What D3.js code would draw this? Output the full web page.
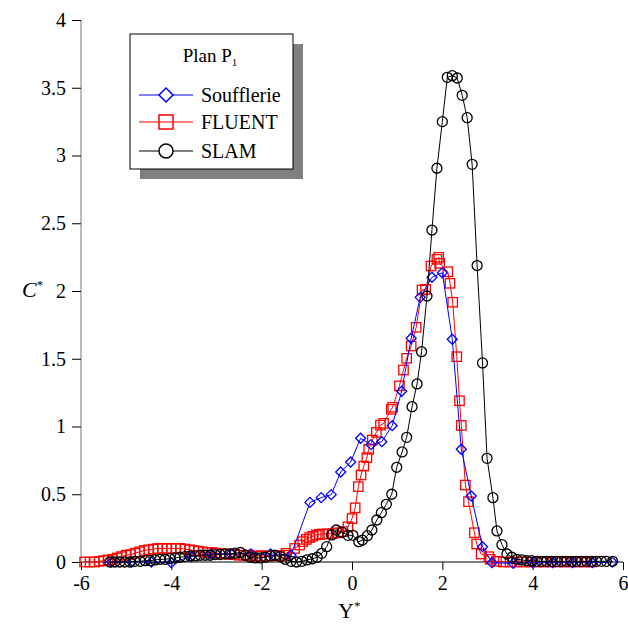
<!DOCTYPE html>
<html><head><meta charset="utf-8">
<script src="https://cdn.jsdelivr.net/npm/d3@7"></script>
<style>body{margin:0;background:#fff}svg{display:block}svg text{font-family:'Liberation Serif','Times New Roman',Times,serif !important}</style>
</head><body>
<script>
const xTicks = [-6,-4,-2,0,2,4,6];
const yTicks = [0,0.5,1,1.5,2,2.5,3,3.5,4];
const seriesNames = ["Soufflerie","FLUENT","SLAM"];
const legendTitle = "Plan P";

const soufX = [-5.32,-4.88,-4.44,-4.0,-3.56,-3.12,-2.68,-2.24,-1.8,-1.35,-0.93,-0.68,-0.46,-0.25,-0.03,0.19,0.42,0.66,0.89,1.1,1.31,1.51,1.77,2.0,2.22,2.42,2.64,2.89,3.1,3.57,4.0,4.44,4.88,5.32,5.76];
const soufY = [0.0,0.0,0.0,-0.005,0.04,0.06,0.06,0.06,0.06,0.05,0.44,0.475,0.497,0.664,0.738,0.913,0.866,0.888,1.006,1.26,1.651,1.953,2.101,2.135,1.644,0.832,0.487,0.113,-0.005,-0.01,-0.005,-0.005,-0.005,-0.005,0.0];

const fluentX = [-5.92,-5.8,-5.7,-5.6,-5.5,-5.4,-5.3,-5.2,-5.1,-5.0,-4.9,-4.8,-4.7,-4.6,-4.5,-4.4,-4.3,-4.2,-4.1,-4.0,-3.9,-3.8,-3.7,-3.6,-3.5,-3.4,-3.3,-3.2,-3.1,-3.0,-2.9,-2.8,-2.7,-2.6,-2.5,-2.4,-2.3,-2.2,-2.1,-2.0,-1.9,-1.8,-1.7,-1.6,-1.5,
 -1.46,-1.27,-1.16,-1.09,-1.01,-0.94,-0.87,-0.79,-0.72,-0.65,-0.54,-0.42,-0.31,-0.2,-0.09,0.0,0.07,0.14,0.2,0.26,0.33,0.37,0.45,0.54,0.63,0.7,0.87,0.9,1.05,1.14,1.21,1.31,1.42,1.55,1.63,1.75,1.88,1.92,1.94,2.12,2.17,2.23,2.32,2.38,2.42,2.51,2.58,2.71,2.76,2.86,3.03,3.06,3.2,3.35,
 3.5,3.65,3.8,3.95,4.1,4.25,4.4,4.55,4.7,4.85,5.0,5.15,5.3];
const fluentY = [0.0,0.0,0.0,0.005,0.01,0.015,0.02,0.03,0.04,0.05,0.055,0.065,0.075,0.085,0.09,0.095,0.1,0.1,0.1,0.1,0.1,0.1,0.095,0.09,0.085,0.08,0.075,0.07,0.07,0.065,0.06,0.06,0.055,0.055,0.05,0.05,0.05,0.045,0.045,0.045,0.045,0.045,0.045,0.045,0.05,
 0.064,0.1,0.125,0.15,0.167,0.18,0.19,0.2,0.204,0.207,0.207,0.21,0.216,0.224,0.26,0.32,0.4,0.556,0.642,0.708,0.77,0.832,0.9,0.957,1.01,1.023,1.127,1.142,1.3,1.417,1.503,1.594,1.732,2.007,2.012,2.184,2.234,2.249,2.204,2.142,2.057,1.917,1.515,1.19,1.008,0.568,0.445,0.216,0.133,0.059,0.039,0.02,0.005,0.0,
 0.0,0.0,0.0,0.0,0.0,0.0,0.0,0.0,0.0,0.0,0.0,0.0,0.0];

const slamX = [-5.36,-5.25,-5.14,-5.03,-4.92,-4.81,-4.69,-4.58,-4.47,-4.36,-4.25,-4.14,-4.03,-3.92,-3.81,-3.7,-3.58,-3.47,-3.36,-3.25,-3.14,-3.03,-2.92,-2.81,-2.7,-2.59,-2.47,-2.36,-2.25,-2.14,-2.03,-1.92,-1.81,-1.7,-1.59,-1.48,
 -1.35,-1.23,-1.11,-1.0,-0.88,-0.77,-0.67,-0.56,-0.45,-0.35,-0.22,-0.09,0.02,0.15,0.23,0.34,0.44,0.55,0.65,0.76,0.88,0.99,1.11,1.21,1.33,1.44,1.54,1.66,1.77,1.88,2.0,2.11,2.22,2.33,2.44,2.55,2.66,2.77,2.89,2.99,3.12,3.21,3.32,3.43,
 3.54,3.65,3.76,3.87,3.98,4.09,4.2,4.31,4.42,4.53,4.64,4.75,4.86,4.97,5.08,5.19,5.3,5.41,5.52,5.63,5.77];
const slamY = [0.0,0.0,0.0,0.0,0.0,0.005,0.005,0.01,0.01,0.015,0.02,0.02,0.025,0.03,0.035,0.04,0.045,0.045,0.05,0.05,0.05,0.055,0.055,0.06,0.06,0.065,0.07,0.05,0.035,0.03,0.03,0.035,0.045,0.05,0.04,0.02,
 0.005,0.0,0.005,0.015,0.024,0.035,0.064,0.113,0.2,0.236,0.22,0.197,0.197,0.15,0.162,0.194,0.236,0.31,0.364,0.426,0.5,0.699,0.812,0.92,1.146,1.314,1.552,1.963,2.45,2.906,3.25,3.577,3.589,3.572,3.444,3.279,2.935,2.188,1.469,0.765,0.475,0.229,0.128,0.059,
 0.035,0.02,0.015,0.01,0.01,0.005,0.005,0.005,0.005,0.005,0.005,0.005,0.005,0.005,0.005,0.005,0.005,0.005,0.005,0.005,0.005];

const FONT = "'Liberation Serif','Times New Roman',Times,serif";
const W = 628, H = 628;
const svg = d3.select("body").append("svg").attr("width", W).attr("height", H).attr("font-family", FONT);
const x = d3.scaleLinear().domain([-6, 6]).range([81, 623]);
const y = d3.scaleLinear().domain([0, 4]).range([562, 20]);

// axes
const xAxis = d3.axisBottom(x).tickValues(xTicks).tickSize(8).tickPadding(6).tickFormat(d => d);
const gx = svg.append("g").attr("transform", "translate(0,562)").call(xAxis).attr("font-family", FONT);
gx.select(".domain").attr("stroke", "#000").attr("d", `M${x(-6)},0H${x(6)}`);
gx.selectAll(".tick line").attr("stroke", "#000");
gx.selectAll("text").attr("font-size", 20).attr("fill", "#000").attr("dy", "0.71em");

const yAxis = d3.axisLeft(y).tickValues(yTicks).tickSize(9).tickPadding(6).tickFormat(d => d);
const gy = svg.append("g").attr("transform", "translate(81,0)").call(yAxis).attr("font-family", FONT);
gy.select(".domain").attr("stroke", "#777").attr("d", `M0,${y(0)}V${y(4)}`);
gy.selectAll(".tick line").attr("stroke", "#000");
gy.selectAll("text").attr("font-size", 20).attr("fill", "#000");

// axis titles
const cl = svg.append("text").attr("x", 22).attr("y", 297).attr("font-size", 22).attr("font-style", "italic");
cl.append("tspan").text("C");
cl.append("tspan").attr("font-size", 13).attr("dy", -8).attr("font-style", "normal").text("*");
const yl = svg.append("text").attr("x", 338).attr("y", 618).attr("font-size", 22);
yl.append("tspan").text("Y");
yl.append("tspan").attr("font-size", 13).attr("dy", -8).text("*");

const line = d3.line().x(d => x(d[0])).y(d => y(d[1]));
const zip = (a, b) => a.map((v, i) => [v, b[i]]);

function drawMarker(g, type, cx, cy, color) {
  if (type === "diamond") {
    g.append("path").attr("d", `M${cx},${cy-5}L${cx+5},${cy}L${cx},${cy+5}L${cx-5},${cy}Z`)
      .attr("fill", "none").attr("stroke", color).attr("stroke-width", 1.3);
  } else if (type === "square") {
    g.append("rect").attr("x", cx-4.7).attr("y", cy-4.7).attr("width", 9.4).attr("height", 9.4)
      .attr("fill", "none").attr("stroke", color).attr("stroke-width", 1.3);
  } else {
    g.append("circle").attr("cx", cx).attr("cy", cy).attr("r", 5)
      .attr("fill", "none").attr("stroke", color).attr("stroke-width", 1.3);
  }
}

const series = [
  {name: seriesNames[1], data: zip(fluentX, fluentY), color: "#ff0000", type: "square"},
  {name: seriesNames[0], data: zip(soufX, soufY), color: "#0000ff", type: "diamond"},
  {name: seriesNames[2], data: zip(slamX, slamY), color: "#000000", type: "circle"}
];
series.forEach(s => {
  const g = svg.append("g");
  g.append("path").attr("d", line(s.data)).attr("fill", "none").attr("stroke", s.color).attr("stroke-width", 1);
  s.data.forEach(d => drawMarker(g, s.type, x(d[0]), y(d[1]), s.color));
});

// legend
const lg = svg.append("g");
lg.append("rect").attr("x", 140).attr("y", 44).attr("width", 163).attr("height", 135).attr("fill", "#808080");
lg.append("rect").attr("x", 130).attr("y", 34).attr("width", 163).attr("height", 135).attr("fill", "#fff").attr("stroke", "#000").attr("stroke-width", 1);
const tt = lg.append("text").attr("x", 210).attr("y", 62).attr("text-anchor", "middle").attr("font-size", 19);
tt.append("tspan").text(legendTitle);
tt.append("tspan").attr("font-size", 11).attr("dy", 4).text("1");
const legItems = [
  {name: seriesNames[0], color: "#0000ff", type: "diamond"},
  {name: seriesNames[1], color: "#ff0000", type: "square"},
  {name: seriesNames[2], color: "#000000", type: "circle"}
];
const legY = [95, 122, 151];
legItems.forEach((it, i) => {
  const gy2 = legY[i];
  lg.append("line").attr("x1", 139).attr("x2", 193).attr("y1", gy2).attr("y2", gy2).attr("stroke", it.color).attr("stroke-width", 1);
  const gm = lg.append("g");
  if (it.type === "diamond") {
    gm.append("path").attr("d", `M166,${gy2-7}L173,${gy2}L166,${gy2+7}L159,${gy2}Z`).attr("fill", "#fff").attr("stroke", it.color).attr("stroke-width", 1.5);
  } else if (it.type === "square") {
    gm.append("rect").attr("x", 159).attr("y", gy2-7).attr("width", 14).attr("height", 14).attr("fill", "none").attr("stroke", it.color).attr("stroke-width", 1.5);
  } else {
    gm.append("circle").attr("cx", 166).attr("cy", gy2).attr("r", 7).attr("fill", "#fff").attr("stroke", it.color).attr("stroke-width", 1.5);
  }
  lg.append("text").attr("x", 201).attr("y", gy2 + 7).attr("font-size", 20).text(it.name);
});
</script>
</body></html>
